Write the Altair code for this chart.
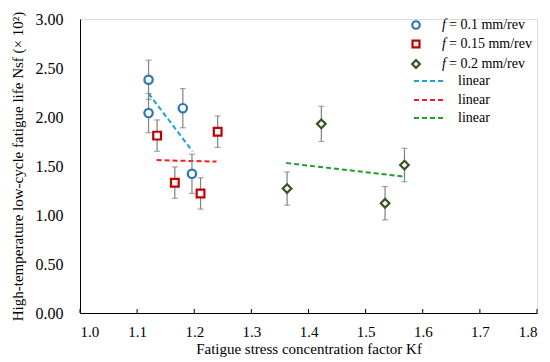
import altair as alt
import pandas as pd

# ---- data ----
kf_01 = [1.12, 1.12, 1.18, 1.196]
n_01 = [2.38, 2.04, 2.09, 1.42]
err_01 = [0.20, 0.20, 0.20, 0.20]

kf_015 = [1.135, 1.166, 1.211, 1.241]
n_015 = [1.81, 1.33, 1.22, 1.85]
err_015 = [0.16, 0.16, 0.16, 0.16]

kf_02 = [1.3625, 1.4225, 1.534, 1.568]
n_02 = [1.27, 1.93, 1.12, 1.51]
err_02 = [0.17, 0.18, 0.17, 0.17]

fit_01_x = [1.12, 1.197]
fit_01_y = [2.24, 1.65]
fit_015_x = [1.134, 1.239]
fit_015_y = [1.56, 1.545]
fit_02_x = [1.361, 1.57]
fit_02_y = [1.53, 1.39]

series_labels = ["= 0.1 mm/rev", "= 0.15 mm/rev", "= 0.2 mm/rev"]
fit_labels = ["linear", "linear", "linear"]
x_ticks = [1.0, 1.1, 1.2, 1.3, 1.4, 1.5, 1.6, 1.7, 1.8]
y_ticks = [0.0, 0.5, 1.0, 1.5, 2.0, 2.5, 3.0]

marker_colors = ["#2E75B6", "#C00000", "#375623"]
fit_colors = ["#1BA3D8", "#FF1A1A", "#1E9E2A"]
shapes = ["circle", "square", "diamond"]
sizes = [70, 60, 75]

FONT = "Liberation Serif"
W, H = 457, 294

xs = alt.Scale(domain=[1.0, 1.8], nice=False)
ys = alt.Scale(domain=[0.0, 3.0], nice=False)

layers = []

groups = [(kf_01, n_01, err_01), (kf_015, n_015, err_015), (kf_02, n_02, err_02)]
fits = [(fit_01_x, fit_01_y), (fit_015_x, fit_015_y), (fit_02_x, fit_02_y)]

# fit lines
for (fx, fy), col in zip(fits, fit_colors):
    df = pd.DataFrame({"x": fx, "y": fy})
    layers.append(
        alt.Chart(df).mark_line(color=col, strokeDash=[5, 3], strokeWidth=2).encode(
            x=alt.X("x:Q", scale=xs), y=alt.Y("y:Q", scale=ys)
        )
    )

# error bars
for (kx, ny, er) in groups:
    df = pd.DataFrame({"x": kx, "lo": [a - b for a, b in zip(ny, er)], "hi": [a + b for a, b in zip(ny, er)]})
    layers.append(
        alt.Chart(df).mark_rule(color="#808080", strokeWidth=1.2).encode(
            x=alt.X("x:Q", scale=xs), y=alt.Y("lo:Q", scale=ys), y2="hi:Q"
        )
    )
    for col in ["lo", "hi"]:
        layers.append(
            alt.Chart(df).mark_tick(color="#808080", orient="horizontal", size=6, thickness=1.2).encode(
                x=alt.X("x:Q", scale=xs), y=alt.Y(f"{col}:Q", scale=ys)
            )
        )

# points
for (kx, ny, er), col, shp, sz in zip(groups, marker_colors, shapes, sizes):
    df = pd.DataFrame({"x": kx, "y": ny})
    layers.append(
        alt.Chart(df).mark_point(shape=shp, size=sz, filled=True, fill="white", stroke=col, strokeWidth=2.2, opacity=1).encode(
            x=alt.X("x:Q", scale=xs), y=alt.Y("y:Q", scale=ys)
        )
    )

# inward x ticks
tick_df = pd.DataFrame({"x": x_ticks})
layers.append(
    alt.Chart(tick_df).mark_rule(color="black", strokeWidth=1).encode(
        x=alt.X("x:Q", scale=xs), y=alt.value(H), y2=alt.value(H - 4)
    )
)

# manual legend (pixel positions inside plot area)
leg_pts = pd.DataFrame({"px": [336, 336, 336], "py": [6, 25, 45], "i": [0, 1, 2]})
for i in range(3):
    d = leg_pts[leg_pts.i == i]
    layers.append(
        alt.Chart(d).mark_point(shape=shapes[i], size=sizes[i] * 0.8, filled=True, fill="white", stroke=marker_colors[i], strokeWidth=2.2, opacity=1).encode(
            x=alt.X("px:Q", scale=None), y=alt.Y("py:Q", scale=None)
        )
    )
f_df = pd.DataFrame({"px": [362, 362, 362], "py": [6, 25, 45], "t": ["f", "f", "f"]})
layers.append(
    alt.Chart(f_df).mark_text(font=FONT, fontSize=14, fontStyle="italic", align="left", baseline="middle").encode(
        x=alt.X("px:Q", scale=None), y=alt.Y("py:Q", scale=None), text="t:N"
    )
)
lab_df = pd.DataFrame({"px": [369, 369, 369], "py": [6, 25, 45], "t": series_labels})
layers.append(
    alt.Chart(lab_df).mark_text(font=FONT, fontSize=14, align="left", baseline="middle").encode(
        x=alt.X("px:Q", scale=None), y=alt.Y("py:Q", scale=None), text="t:N"
    )
)
line_y = [62, 81, 99]
for i in range(3):
    d = pd.DataFrame({"a": [334], "b": [365], "py": [line_y[i]]})
    layers.append(
        alt.Chart(d).mark_rule(color=fit_colors[i], strokeDash=[5, 3], strokeWidth=2).encode(
            x=alt.X("a:Q", scale=None), x2="b:Q", y=alt.Y("py:Q", scale=None)
        )
    )
lin_df = pd.DataFrame({"px": [378, 378, 378], "py": line_y, "t": fit_labels})
layers.append(
    alt.Chart(lin_df).mark_text(font=FONT, fontSize=14, align="left", baseline="middle").encode(
        x=alt.X("px:Q", scale=None), y=alt.Y("py:Q", scale=None), text="t:N"
    )
)

# axes carrier
axis_df = pd.DataFrame({"x": [1.0], "y": [0.0]})
axes = alt.Chart(axis_df).mark_point(opacity=0).encode(
    x=alt.X("x:Q", scale=xs, axis=alt.Axis(
        values=x_ticks, format=".1f", title="Fatigue stress concentration factor   Kf",
        ticks=False, grid=False, labelPadding=11, titlePadding=2, domainColor="black",
        labelFont=FONT, labelFontSize=15, titleFont=FONT, titleFontSize=15, titleFontWeight="normal",
        labelColor="black", titleColor="black")),
    y=alt.Y("y:Q", scale=ys, axis=alt.Axis(
        values=y_ticks, format=".2f", title="High-temperature low-cycle fatigue life Nsf (\u00d7 10\u00b2)",
        ticks=False, grid=False, labelPadding=17, titlePadding=10, domainColor="black",
        labelFont=FONT, labelFontSize=16, titleFont=FONT, titleFontSize=15, titleFontWeight="normal",
        labelColor="black", titleColor="black")),
)

chart = alt.layer(axes, *layers).properties(
    width=W, height=H,
    autosize=alt.AutoSizeParams(type="none"),
    padding={"left": 72, "top": 11, "right": 5, "bottom": 50},
).configure_view(stroke=None).configure(background="white")

chart.save("out.html", embed_options={"renderer": "svg", "actions": False})
